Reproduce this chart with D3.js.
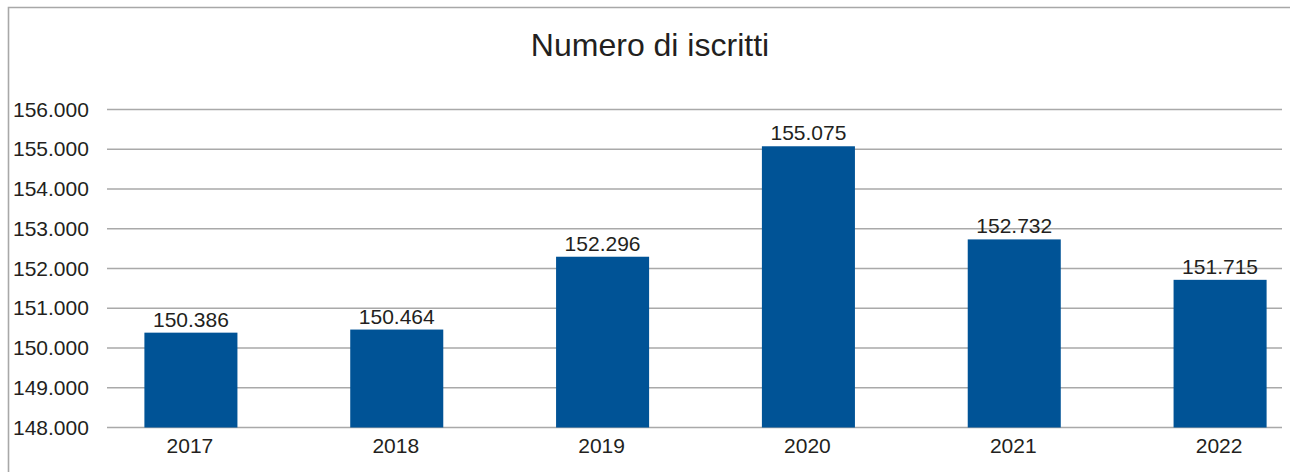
<!DOCTYPE html>
<html>
<head>
<meta charset="utf-8">
<script src="https://cdn.jsdelivr.net/npm/d3@7"></script>
<style>
  html, body { margin: 0; padding: 0; background: #fff; }
  svg { display: block; font-family: "Liberation Sans", Arial, Helvetica, sans-serif; }
</style>
</head>
<body>
<svg id="chart" width="1290" height="472"></svg>
<script>
const title = "Numero di iscritti";
const categories = ["2017", "2018", "2019", "2020", "2021", "2022"];
const values = [150386, 150464, 152296, 155075, 152732, 151715];
const tickValues = [148000, 149000, 150000, 151000, 152000, 153000, 154000, 155000, 156000];
const tickLabels = ["148.000", "149.000", "150.000", "151.000", "152.000", "153.000", "154.000", "155.000", "156.000"];

const svg = d3.select("#chart");
const W = 1290, H = 472;
const textColor = "#231f20";
const barColor = "#005396";
const gridColor = "#a9a9a9";
const fs = 21;

// frame
svg.append("path")
  .attr("d", `M8.5,${H} L8.5,7.5 L${W},7.5`)
  .attr("fill", "none").attr("stroke", "#a8a8a8").attr("stroke-width", 1.6);

// title
svg.append("text")
  .attr("x", 650).attr("y", 56)
  .attr("text-anchor", "middle")
  .attr("font-size", 32)
  .attr("fill", textColor)
  .text(title);

const y = d3.scaleLinear().domain([148000, 156000]).range([427.5, 109.5]);
const x = d3.scaleBand().domain(categories).range([88, 1323]).paddingInner(0.548).paddingOuter(0.274);

const gridX0 = 107, gridX1 = 1282;

// gridlines
svg.append("g").selectAll("line").data(tickValues).join("line")
  .attr("x1", gridX0).attr("x2", gridX1)
  .attr("y1", d => y(d)).attr("y2", d => y(d))
  .attr("stroke", gridColor).attr("stroke-width", 1.4);

// tick labels
svg.append("g").selectAll("text").data(tickValues).join("text")
  .attr("x", 13).attr("y", d => y(d) + 7)
  .attr("font-size", fs)
  .attr("fill", textColor)
  .text((d, i) => tickLabels[i]);

// bars
svg.append("g").selectAll("rect").data(values).join("rect")
  .attr("x", (d, i) => x(categories[i]))
  .attr("width", x.bandwidth())
  .attr("y", d => y(d))
  .attr("height", d => y(148000) - y(d))
  .attr("fill", barColor);

// value labels
const fmt = v => d3.format(",")(v).replace(/,/g, ".");
svg.append("g").selectAll("text").data(values).join("text")
  .attr("x", (d, i) => x(categories[i]) + x.bandwidth() / 2)
  .attr("y", d => y(d) - 6)
  .attr("text-anchor", "middle")
  .attr("font-size", fs)
  .attr("fill", textColor)
  .text(d => fmt(d));

// category labels
svg.append("g").selectAll("text").data(categories).join("text")
  .attr("x", d => x(d) + x.bandwidth() / 2 - 1)
  .attr("y", 453)
  .attr("text-anchor", "middle")
  .attr("font-size", fs)
  .attr("fill", textColor)
  .text(d => d);
</script>
</body>
</html>
